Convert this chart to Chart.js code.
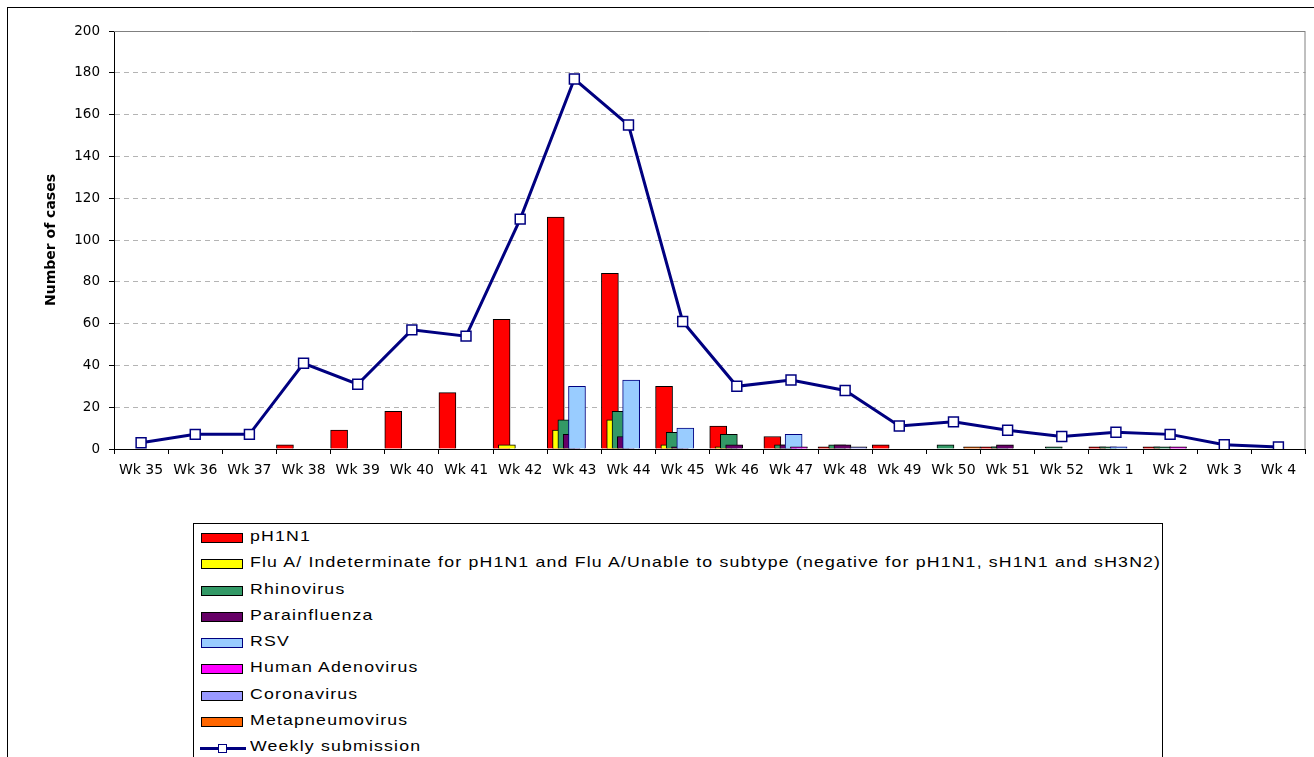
<!DOCTYPE html>
<html>
<head>
<meta charset="utf-8">
<title>Weekly submissions</title>
<script src="https://cdn.jsdelivr.net/npm/chart.js@4.4.1/dist/chart.umd.min.js"></script>
<style>
  html, body { margin: 0; padding: 0; background: #fff; overflow: hidden; }
  #frame { position: absolute; left: 7px; top: 7px; width: 1330px; height: 800px; border: 1.5px solid #000; }
  #chart { position: absolute; left: 0; top: 0; }
  #legend { position: absolute; left: 193px; top: 523px; width: 970px; height: 260px; border: 1px solid #000;
            box-sizing: border-box; padding-top: 1px; background: #fff; }
  .row { position: relative; height: 26.25px; }
  .swatch { position: absolute; left: 7px; top: 8px; width: 42px; height: 10px; box-sizing: border-box; border: 1px solid #000; }
  .line-sw { position: absolute; left: 6px; top: 12px; width: 46px; height: 2.5px; }
  .marker { position: absolute; left: 24px; top: 8.5px; width: 9px; height: 9px; box-sizing: border-box; background: #fff; }
  .label { position: absolute; left: 56px; top: 2px; line-height: 26.25px; white-space: nowrap;
           font: 15px "Liberation Sans", Arial, sans-serif; color: #000; letter-spacing: 1px;
           transform: scaleX(1.18); transform-origin: left center; }
</style>
</head>
<body>
<div id="frame"></div>
<canvas id="chart" width="1314" height="500"></canvas>
<div id="legend"></div>
<script>
  const weeks = ['Wk 35', 'Wk 36', 'Wk 37', 'Wk 38', 'Wk 39', 'Wk 40', 'Wk 41', 'Wk 42', 'Wk 43', 'Wk 44', 'Wk 45',
                 'Wk 46', 'Wk 47', 'Wk 48', 'Wk 49', 'Wk 50', 'Wk 51', 'Wk 52', 'Wk 1', 'Wk 2', 'Wk 3', 'Wk 4'];

  // counts per week, one array per virus
  const pH1N1      = [0, 0, 0, 2, 9, 18, 27, 62, 111, 84, 30, 11, 6, 1, 2, 0, 1, 0, 1, 1, 0, 0];
  const fluA       = [0, 0, 0, 0, 0, 0, 0, 2, 9, 14, 2, 1, 0, 0, 0, 0, 0, 0, 0, 0, 0, 0];
  const rhino      = [0, 0, 0, 0, 0, 0, 0, 0, 14, 18, 8, 7, 2, 2, 0, 2, 1, 1, 1, 1, 0, 0];
  const parainflu  = [0, 0, 0, 0, 0, 0, 0, 0, 7, 6, 1, 2, 2, 2, 0, 0, 2, 0, 0, 0, 0, 0];
  const rsv        = [0, 0, 0, 0, 0, 0, 0, 0, 30, 33, 10, 0, 7, 0, 0, 0, 0, 0, 1, 0, 0, 0];
  const adeno      = [0, 0, 0, 0, 0, 0, 0, 0, 0, 0, 0, 0, 1, 0, 0, 0, 0, 0, 0, 1, 0, 0];
  const corona     = [0, 0, 0, 0, 0, 0, 0, 0, 0, 0, 0, 0, 0, 1, 0, 0, 0, 0, 0, 0, 0, 0];
  const metapneumo = [0, 0, 0, 0, 0, 0, 0, 0, 0, 0, 0, 0, 0, 0, 0, 1, 0, 0, 0, 0, 0, 0];
  const weekly     = [3, 7, 7, 41, 31, 57, 54, 110, 177, 155, 61, 30, 33, 28, 11, 13, 9, 6, 8, 7, 2, 1];

  const yTicks = [0, 20, 40, 60, 80, 100, 120, 140, 160, 180, 200];

  const seriesNames = ['pH1N1',
    'Flu A/ Indeterminate for pH1N1 and Flu A/Unable to subtype (negative for pH1N1, sH1N1 and sH3N2)',
    'Rhinovirus', 'Parainfluenza', 'RSV', 'Human Adenovirus', 'Coronavirus', 'Metapneumovirus'];
  const seriesValues = [pH1N1, fluA, rhino, parainflu, rsv, adeno, corona, metapneumo];
  const seriesFill = ['#ff0000', '#ffff00', '#339966', '#660066', '#99ccff', '#ff00ff', '#9999ff', '#ff6600'];
  const seriesEdge = ['#000', '#000', '#000', '#000', '#000080', '#000', '#000', '#000'];

  // Excel style overlapping clustered bars
  const CAT_PX = 54.35;
  const BAR_PX = 17;
  const STEP_PX = 5.33;

  const barSets = seriesValues.map((vals, k) => ({
    type: 'bar',
    label: seriesNames[k],
    xAxisID: 'xb',
    yAxisID: 'y',
    data: vals.map((v, i) => ({ x: i - 0.5 + (BAR_PX / 2 + k * STEP_PX) / CAT_PX, y: v || null })),
    backgroundColor: seriesFill[k],
    borderColor: seriesEdge[k],
    borderWidth: 1,
    barThickness: BAR_PX,
    grouped: false,
    order: 20 - k
  }));

  const lineSet = {
    type: 'line',
    label: 'Weekly submission',
    xAxisID: 'x',
    yAxisID: 'y',
    data: weekly,
    borderColor: '#000080',
    borderWidth: 3,
    pointStyle: 'rect',
    pointRadius: 7,
    pointBackgroundColor: '#fff',
    pointBorderColor: '#000080',
    pointBorderWidth: 1.5,
    tension: 0,
    order: 0
  };

  const plotFrame = {
    id: 'plotFrame',
    beforeDatasetsDraw(chart) {
      const { ctx, chartArea: a } = chart;
      ctx.save();
      ctx.strokeStyle = '#808080';
      ctx.lineWidth = 1;
      ctx.beginPath();
      ctx.moveTo(a.left, a.top + 0.5);
      ctx.lineTo(a.right - 0.5, a.top + 0.5);
      ctx.lineTo(a.right - 0.5, a.bottom);
      ctx.stroke();
      ctx.restore();
    }
  };

  const chart = new Chart(document.getElementById('chart'), {
    data: { labels: weeks, datasets: [...barSets, lineSet] },
    plugins: [plotFrame],
    options: {
      responsive: false,
      animation: false,
      devicePixelRatio: 1,
      layout: { padding: { left: 0, top: 31, right: 4, bottom: 0 } },
      plugins: { legend: { display: false }, tooltip: { enabled: false } },
      scales: {
        x: {
          type: 'category',
          labels: weeks,
          offset: true,
          grid: { offset: true, drawOnChartArea: false, drawTicks: true, tickLength: 5, tickColor: '#000' },
          border: { color: '#000', width: 1 },
          ticks: { color: '#000', font: { family: 'DejaVu Sans', size: 14 }, autoSkip: false, maxRotation: 0, padding: 8 },
          afterFit: s => { s.height = 51; }
        },
        xb: { type: 'linear', min: -0.5, max: 21.5, offset: false, display: false },
        y: {
          min: 0,
          max: 200,
          afterBuildTicks: s => { s.ticks = yTicks.map(v => ({ value: v })); },
          ticks: { color: '#000', font: { family: 'DejaVu Sans', size: 13.5 }, padding: 9 },
          grid: { color: '#b4b4b4', tickColor: '#000', tickLength: 5, tickBorderDash: [] },
          border: { color: '#000', width: 1, dash: [5, 4] },
          title: {
            display: true,
            text: 'Number of cases',
            color: '#000',
            font: { family: 'DejaVu Sans', size: 14, weight: 'bold' },
            padding: { top: 43, bottom: 0 }
          },
          afterFit: s => { s.width = 114; }
        }
      }
    }
  });

  // legend as a boxed list below the chart
  const legendBox = document.getElementById('legend');
  chart.data.datasets.forEach(ds => {
    const row = document.createElement('div');
    row.className = 'row';
    if (ds.type === 'line') {
      const ln = document.createElement('div');
      ln.className = 'line-sw';
      ln.style.background = ds.borderColor;
      const mk = document.createElement('div');
      mk.className = 'marker';
      mk.style.border = '1.5px solid ' + ds.pointBorderColor;
      row.appendChild(ln);
      row.appendChild(mk);
    } else {
      const sw = document.createElement('div');
      sw.className = 'swatch';
      sw.style.background = ds.backgroundColor;
      sw.style.borderColor = ds.borderColor;
      row.appendChild(sw);
    }
    const lab = document.createElement('span');
    lab.className = 'label';
    lab.textContent = ds.label;
    row.appendChild(lab);
    legendBox.appendChild(row);
  });
</script>
</body>
</html>
